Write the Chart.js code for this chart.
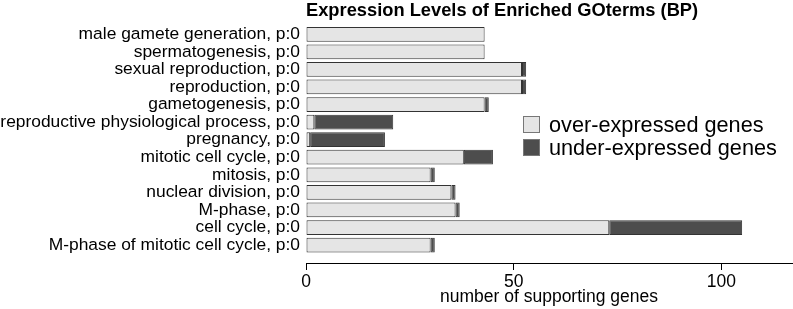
<!DOCTYPE html>
<html>
<head>
<meta charset="utf-8">
<script src="https://cdn.jsdelivr.net/npm/chart.js@4"></script>
<style>
  html, body { margin: 0; padding: 0; background: #fff; }
  #wrap { position: relative; width: 793px; height: 309px; }
  #legend { position: absolute; left: 523px; top: 113px; font-family: "Liberation Sans", Arial, sans-serif; font-size: 21.7px; color: #000; line-height: 23px; }
  #legend div { display: flex; align-items: center; white-space: nowrap; height: 23px; }
  #legend span.box { display: inline-block; width: 15px; height: 15px; border: 1px solid #777; margin-right: 9px; }
</style>
</head>
<body>
<div id="wrap">
  <canvas id="myChart" width="793" height="309"></canvas>
  <div id="legend"></div>
</div>
<script>
const terms = [
  "male gamete generation, p:0",
  "spermatogenesis, p:0",
  "sexual reproduction, p:0",
  "reproduction, p:0",
  "gametogenesis, p:0",
  "reproductive physiological process, p:0",
  "pregnancy, p:0",
  "mitotic cell cycle, p:0",
  "mitosis, p:0",
  "nuclear division, p:0",
  "M-phase, p:0",
  "cell cycle, p:0",
  "M-phase of mitotic cell cycle, p:0"
];
const overExpressed = [43, 43, 52, 52, 43, 2, 1, 38, 30, 35, 36, 73, 30];
const underExpressed = [0, 0, 1, 1, 1, 19, 18, 7, 1, 1, 1, 32, 1];
const xTicks = [0, 50, 100];
const seriesNames = ["over-expressed genes", "under-expressed genes"];
const seriesColors = ["#e5e5e5", "#4d4d4d"];

const font = "'Liberation Sans', Arial, sans-serif";

const ctx = document.getElementById("myChart").getContext("2d");

const myChart = new Chart(ctx, {
  type: "bar",
  data: {
    datasets: [
      {
        label: seriesNames[0],
        data: overExpressed.map((v, i) => ({ x: v, y: i })),
        backgroundColor: seriesColors[0],
        borderColor: "#333",
        borderWidth: 1,
        borderSkipped: false,
        categoryPercentage: 1,
        barPercentage: 0.84
      },
      {
        label: seriesNames[1],
        data: underExpressed.map((v, i) => ({ x: v, y: i })),
        backgroundColor: seriesColors[1],
        borderColor: "#333",
        borderWidth: 1,
        borderSkipped: false,
        categoryPercentage: 1,
        barPercentage: 0.84
      }
    ]
  },
  options: {
    indexAxis: "y",
    responsive: false,
    animation: false,
    layout: { padding: { left: 0, right: 1, top: 0, bottom: 0 } },
    scales: {
      x: {
        type: "linear",
        stacked: true,
        min: 0,
        max: 117,
        afterBuildTicks: (scale) => { scale.ticks = xTicks.map(v => ({ value: v })); },
        afterFit: (scale) => { scale.height = 46; },
        ticks: { color: "#000", font: { family: font, size: 17.5 }, padding: 2, maxRotation: 0 },
        grid: { display: true, drawOnChartArea: false, drawTicks: true, tickLength: 7, color: "#000" },
        border: { display: true, color: "#000", width: 1 },
        title: {
          display: true,
          text: "number of supporting genes",
          color: "#000",
          font: { family: font, size: 17.5 },
          padding: { top: 0, bottom: 1 }
        }
      },
      y: {
        type: "linear",
        stacked: true,
        reverse: true,
        offset: false,
        min: -0.7,
        max: 13.02,
        afterBuildTicks: (scale) => { scale.ticks = terms.map((_, i) => ({ value: i })); },
        afterFit: (scale) => { scale.width = 306; },
        ticks: {
          color: "#000",
          font: { family: font, size: 17.4 },
          padding: 6,
          autoSkip: false,
          callback: (value) => terms[value]
        },
        grid: { display: false, drawTicks: false },
        border: { display: false }
      }
    },
    plugins: {
      legend: { display: false },
      tooltip: { enabled: false },
      title: {
        display: true,
        text: "Expression Levels of Enriched GOterms (BP)",
        fullSize: false,
        align: "start",
        color: "#000",
        font: { family: font, size: 18.3, weight: "bold" },
        padding: { top: 0, bottom: 0 }
      }
    }
  }
});

// legend drawn as html next to the bars
const legendEl = document.getElementById("legend");
seriesNames.forEach((name, i) => {
  const row = document.createElement("div");
  const box = document.createElement("span");
  box.className = "box";
  box.style.background = seriesColors[i];
  row.appendChild(box);
  row.appendChild(document.createTextNode(name));
  legendEl.appendChild(row);
});
</script>
</body>
</html>
